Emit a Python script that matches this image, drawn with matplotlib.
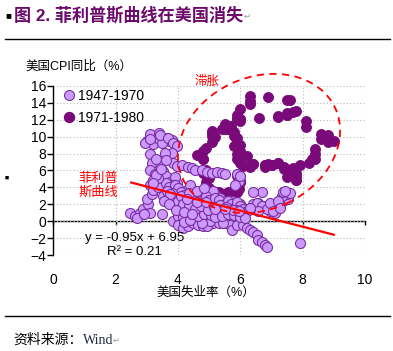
import matplotlib
matplotlib.use('Agg')
import matplotlib.pyplot as plt
from matplotlib.patches import Ellipse
from matplotlib.lines import Line2D
from matplotlib.transforms import ScaledTranslation

plt.rcParams['font.family'] = ['Liberation Sans', 'Noto Sans CJK SC', 'DejaVu Sans']

# 1947-1970: unemployment (%), CPI yoy (%)
early_x = [3.1, 3.0, 3.2, 3.4, 3.4, 3.6, 3.7, 3.8, 3.9, 3.5, 2.95, 3.1, 3.42, 3.69, 3.85,
           3.96, 3.8, 3.58, 3.1, 3.16, 3.1, 3.42, 3.53, 3.85, 3.96, 3.3, 3.25, 3.6,
           4.12, 4.33, 4.45, 4.55, 4.76, 4.92, 5.1, 5.25, 5.4, 5.51, 5.88, 5.96, 6.0,
           3.21, 3.48, 3.69, 3.1, 3.96, 3.6, 3.75, 3.9,
           2.46, 2.62, 2.78, 2.89, 3.05, 3.1, 3.0, 3.16, 3.21, 3.37, 3.48, 2.7, 2.9,
           3.53, 3.74, 3.8, 3.9, 3.96, 3.85, 4.06, 4.12, 4.28, 4.44, 4.49, 4.65, 4.76,
           4.87, 4.6, 4.28, 4.06, 4.87, 4.39, 3.85, 4.0, 4.15, 4.5,
           4.01, 4.17, 4.33, 4.49, 4.65, 4.81, 4.97, 5.13, 5.35, 5.51, 5.67, 5.3, 5.46,
           4.92, 5.03, 4.76, 4.2, 4.4,
           5.72, 5.88, 6.1, 6.2, 6.31, 6.42, 6.52, 6.58, 6.68, 6.79, 6.84, 7.9,
           4.81, 4.92, 5.13, 5.19, 5.35, 5.51, 5.67, 5.77, 5.94, 6.04, 6.42, 6.58, 6.68,
           6.42, 6.74, 6.95, 7.11, 7.27, 7.38, 7.54, 7.49, 7.33, 7.38, 7.6,
           6.52, 6.68, 6.84, 6.95, 7.06, 7.22, 7.27, 7.43, 6.58, 6.3,
           5.03, 5.13, 5.35, 5.56, 5.72, 5.99, 6.1, 5.94, 5.83,
           3.6, 3.7, 3.9, 4.0, 4.1, 4.2, 4.3, 4.4, 4.5, 4.6, 4.7, 4.8, 4.9, 5.0, 5.1,
           5.2, 5.3, 5.5, 5.6, 5.7, 5.8, 5.9, 6.0, 6.1, 6.2, 6.3, 3.8, 3.9, 4.0, 4.2,
           4.3, 4.55, 4.7, 4.95, 5.25, 5.45, 5.65, 5.85, 6.05, 4.1, 4.35, 4.6, 4.85,
           3.65, 3.75, 3.55, 3.7, 4.05, 4.25, 4.45, 4.65, 4.85, 5.05, 5.2, 5.4, 5.6,
           5.8, 6.0, 6.15, 4.15, 4.35, 4.55, 4.75, 4.95, 5.15, 5.35, 5.55, 5.75, 5.95,
           4.3, 4.6, 4.9, 5.2, 5.5, 3.95, 4.2, 4.45, 3.35, 3.3, 3.2, 3.45]
early_y = [10.3, 9.5, 9.1, 10.4, 9.7, 9.9, 9.5, 9.6, 9.1, 9.3, 9.3, 9.7, 10.2, 9.9, 9.3,
           8.9, 8.1, 8.1, 7.9, 6.9, 6.1, 6.9, 5.9, 6.9, 6.5, 7.4, 5.6, 7.2,
           6.7, 6.4, 6.3, 6.1, 6.0, 5.8, 5.7, 5.8, 5.7, 5.6, 5.6, 4.8, 5.3,
           4.9, 4.7, 5.1, 4.3, 4.5, 5.4, 4.6, 5.2,
           1.0, 0.6, 1.0, 1.4, 2.0, 1.0, 2.6, 3.2, 3.7, 4.1, 0.8, 0.4, 0.9,
           3.0, 3.7, 2.6, 1.8, 0.2, 0.0, 0.0, 1.0, 1.4, 1.0, 2.0, 2.2, 1.4,
           2.6, 3.2, 3.7, 3.4, 3.7, 4.3, 4.3, 0.6, 0.5, 0.3,
           -0.4, -0.8, -0.6, -0.2, -0.4, -0.6, -0.4, -0.2, 0.0, -0.2, -0.4, -0.2, -0.2,
           -0.6, 0.0, -0.2, -0.1, 0.1,
           -1.0, -0.4, -0.4, -0.8, -1.0, -1.3, -1.6, -2.2, -2.5, -2.8, -3.1, -2.6,
           1.4, 0.8, 1.2, 3.2, 1.8, 1.2, 1.0, 1.6, 2.0, 0.8, 2.0, 2.2, 3.5,
           3.4, 1.8, 1.2, 1.0, 2.0, 2.4, 2.6, 3.2, 3.0, 3.5, 3.3,
           2.2, 1.8, 1.4, 2.2, 1.2, 2.4, 1.6, 3.6, 1.2, 1.4,
           3.2, 3.6, 2.8, 2.0, 2.4, 2.0, 1.6, 1.2, 4.3,
           4.5, 4.1, 4.3, 3.9, 3.5, 3.1, 2.9, 2.7, 2.5, 2.9, 3.1, 3.5, 3.0, 2.5, 2.2,
           2.8, 2.5, 2.0, 2.4, 2.0, 1.6, 2.3, 1.8, 1.5, 1.2, 1.6, 3.3, 2.8, 2.4, 1.8,
           2.2, 1.7, 2.0, 1.7, 1.5, 1.6, 1.4, 1.3, 1.0, 3.0, 3.3, 3.6, 3.9,
           3.6, 3.2, 2.4, 2.0, 1.5, 1.2, 0.8, 0.6, 0.9, 0.7, 0.5, 0.6, 0.8,
           0.7, 0.5, 0.4, 2.0, 1.8, 1.4, 1.8, 1.3, 1.7, 1.9, 1.7, 1.3, 1.2,
           2.6, 2.3, 2.3, 1.4, 1.5, 1.3, 1.1, 0.9, 5.1, 5.5, 4.5, 6.2]

# 1971-1980
late_x = [5.9, 5.95, 6.0, 5.9, 5.95, 6.0, 5.9, 6.0, 5.9, 5.95, 5.9, 5.9,
          5.8, 5.7, 5.8, 5.7, 5.7, 5.7, 5.6, 5.6, 5.5, 5.6, 5.3, 5.2,
          4.9, 5.0, 4.9, 5.0, 4.9, 4.9, 4.8, 4.8, 4.8, 4.6, 4.8, 4.9,
          5.1, 5.2, 5.1, 5.1, 5.1, 5.4, 5.5, 5.5, 5.9, 6.0, 6.6, 7.2,
          8.1, 8.1, 8.6, 8.8, 9.0, 8.8, 8.6, 8.4, 8.4, 8.4, 8.3, 8.2,
          7.9, 7.7, 7.6, 7.7, 7.4, 7.6, 7.8, 7.8, 7.6, 7.7, 7.8, 7.8,
          7.5, 7.6, 7.4, 7.2, 7.0, 7.2, 6.9, 7.0, 6.8, 6.8, 6.8, 6.4,
          6.4, 6.3, 6.3, 6.1, 6.0, 5.9, 6.2, 5.9, 6.0, 5.8, 5.9, 6.0,
          5.9, 5.9, 5.8, 5.8, 5.6, 5.7, 5.7, 6.0, 5.9, 6.0, 5.9, 6.0,
          6.3, 6.3, 6.3, 6.9, 7.5, 7.6, 7.8, 7.7, 7.5, 7.5, 7.5, 7.2]
late_y = [5.3, 5.0, 4.7, 4.2, 4.4, 4.6, 4.4, 4.6, 4.1, 3.8, 3.5, 3.4,
          3.3, 3.5, 3.5, 3.5, 3.2, 2.7, 2.9, 2.9, 3.2, 3.4, 3.4, 3.4,
          3.6, 3.9, 4.6, 5.1, 5.5, 6.0, 5.7, 7.4, 7.4, 7.8, 8.3, 8.7,
          9.4, 10.0, 10.4, 10.1, 10.7, 10.9, 11.5, 10.9, 12.1, 12.1, 12.2, 12.3,
          11.8, 11.2, 10.3, 10.2, 9.5, 9.4, 9.7, 8.6, 7.9, 7.4, 7.4, 6.9,
          6.7, 6.3, 6.1, 6.0, 6.2, 5.9, 5.4, 5.7, 5.5, 5.5, 4.9, 4.9,
          5.2, 5.9, 6.4, 6.9, 6.7, 6.9, 6.8, 6.6, 6.6, 6.4, 6.7, 6.8,
          6.8, 6.4, 6.6, 6.5, 6.9, 7.4, 7.7, 7.9, 8.3, 8.9, 8.9, 9.0,
          9.3, 9.9, 10.1, 10.5, 10.9, 10.9, 11.3, 11.8, 12.2, 12.1, 12.6, 13.3,
          13.9, 14.2, 14.8, 14.7, 14.4, 14.4, 13.1, 12.9, 12.6, 12.8, 12.6, 12.5]

slope, intercept = -0.95, 6.95
fit_x = [2.5, 9.0]
series_labels = ['1947-1970', '1971-1980']
x_ticks = [0, 2, 4, 6, 8, 10]
y_ticks = list(range(-4, 17, 2))

light_face = '#CC99FF'
light_edge = '#7B2FA0'
dark_col = '#7A0A7A'
title_col = '#6B0A6B'

fig = plt.figure(figsize=(3.93, 3.51), dpi=100)
ax = fig.add_axes([0.1356, 0.2735, 0.7932, 0.4815])

ax.scatter(late_x, late_y, s=52, color=dark_col, edgecolors=dark_col, linewidths=0.6,
           zorder=3, label=series_labels[1])
ax.scatter(early_x, early_y, s=52, color=light_face, edgecolors=light_edge, linewidths=0.8,
           zorder=4, label=series_labels[0])

fit_y = [slope * v + intercept for v in fit_x]
ax.plot(fit_x, fit_y, color='red', lw=1.6, zorder=5)

ax.set_xlim(0, 10)
ax.set_ylim(-4, 16)
ax.set_xticks(x_ticks)
ax.set_yticks(y_ticks)
ax.grid(True, color='#BBBBBB', linestyle=(0, (1, 2)), lw=0.8, zorder=0)
ax.set_axisbelow(True)
for s in ['top', 'right', 'bottom']:
    ax.spines[s].set_visible(False)
ax.spines['left'].set_linewidth(1.0)
ax.tick_params(axis='y', direction='out', length=4, width=1, labelsize=10, pad=1)
ax.tick_params(axis='x', length=0, labelsize=10, pad=13)

# horizontal axis drawn at y = 0
sec = ax.secondary_xaxis(4 / 20)
sec.set_xticks(x_ticks)
sec.tick_params(direction='out', length=3, width=1, labelbottom=False)
sec.spines['bottom'].set_linewidth(1.0)

# legend
handles = [Line2D([], [], ls='none', marker='o', ms=7.2, mfc=light_face, mec=light_edge, mew=0.8),
           Line2D([], [], ls='none', marker='o', ms=7.2, mfc=dark_col, mec=dark_col)]
ax.legend(handles, series_labels, loc='upper left', bbox_to_anchor=(0.02, 1.0), frameon=False,
          fontsize=10, handletextpad=0.1, handlelength=1.0, labelspacing=0.6, borderpad=0.2,
          borderaxespad=0)

# stagflation ellipse
ell = Ellipse((0, 0), 1.68, 1.32, angle=25, fill=False, edgecolor='red', lw=1.3,
              linestyle=(0, (4, 3)), clip_on=False, zorder=6,
              transform=fig.dpi_scale_trans + ScaledTranslation(6.6, 9.2, ax.transData))
ax.add_patch(ell)

ax.text(4.93, 16.5, '滞胀', color='red', fontsize=9, ha='center', va='center', clip_on=False)
ax.text(1.44, 4.2, '菲利普\n斯曲线', color='red', fontsize=9.5, ha='center', va='center',
        linespacing=1.25)
ax.text(2.6, -2.0, 'y = -0.95x + 6.95', fontsize=9.5, ha='center', va='center', zorder=7)
ax.text(2.6, -3.65, 'R² = 0.21', fontsize=9.5, ha='center', va='center', zorder=7)

fig.text(25 / 393, 1 - 67 / 351, '美国CPI同比（%）', fontsize=9, ha='left', va='center')
fig.text(206 / 393, 1 - 293 / 351, '美国失业率（%）', fontsize=9, ha='center', va='center')

# page decoration
fig.text(5 / 393, 1 - 15 / 351, '■', fontsize=7, ha='left', va='center', color='black')
fig.text(14 / 393, 1 - 15 / 351, '图 2. 菲利普斯曲线在美国消失', fontsize=12.3, fontweight='bold',
         color=title_col, ha='left', va='center')
fig.text(244 / 393, 1 - 16 / 351, '↵', fontsize=6, color='#999999', ha='left', va='center',
         family='DejaVu Sans')
fig.text(5 / 393, 1 - 178 / 351, '■', fontsize=5, ha='left', va='center', color='black')
fig.add_artist(Line2D([5 / 393, 390 / 393], [1 - 39 / 351, 1 - 39 / 351], color='black', lw=1))
fig.add_artist(Line2D([5 / 393, 390 / 393], [1 - 316 / 351, 1 - 316 / 351], color='black', lw=1))
fig.text(13 / 393, 1 - 340 / 351, '资料来源：', fontsize=10, ha='left', va='center')
fig.text(83 / 393, 1 - 340 / 351, 'Wind', fontsize=10, ha='left', va='center',
         family='Liberation Serif', color='#1F2A44')
fig.text(113 / 393, 1 - 340 / 351, '↵', fontsize=6, color='#999999', ha='left', va='center',
         family='DejaVu Sans')

fig.savefig('out.png', dpi=100)
